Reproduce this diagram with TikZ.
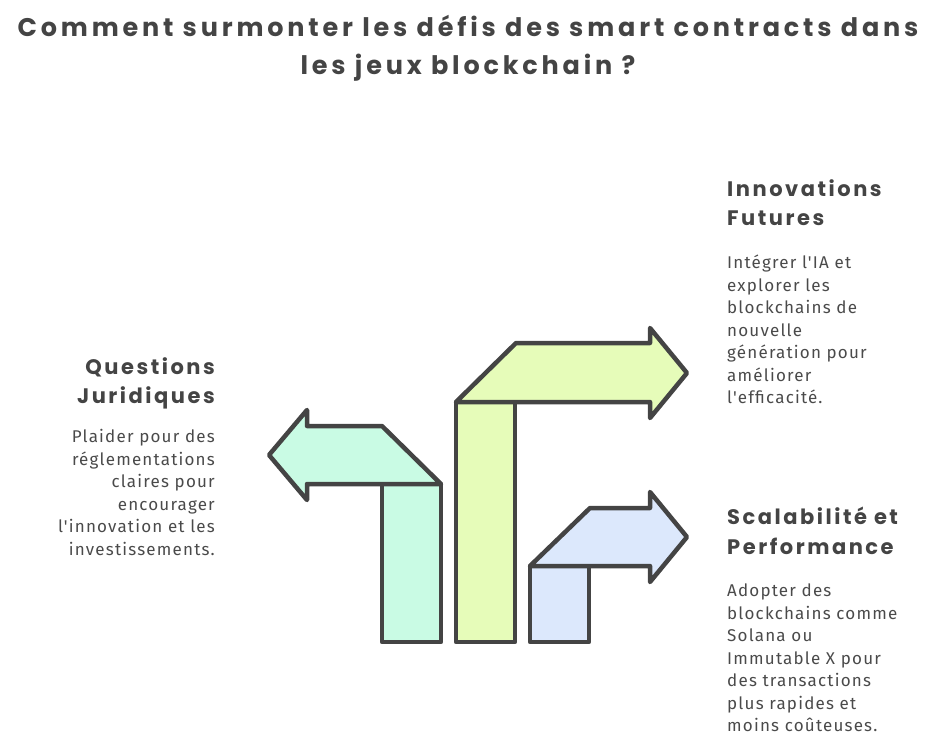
\documentclass[tikz,border=0pt]{standalone}
\usepackage{fontspec}
\setmainfont{Fira Sans}
\newfontfamily\titlefont{Poppins}[LetterSpace=15]
\newfontfamily\headfont{Poppins}[LetterSpace=12]
\newfontfamily\bodyfont{Fira Sans}[LetterSpace=7]
\usetikzlibrary{positioning}
\definecolor{inkgray}{HTML}{444444}
\definecolor{bodygray}{HTML}{4A4A4A}
\definecolor{tealfill}{HTML}{C9FBE4}
\definecolor{limefill}{HTML}{E6FCB9}
\definecolor{bluefill}{HTML}{DCE8FC}

\begin{document}
\begin{tikzpicture}[x=1pt,y=-1pt,
    arrowbody/.style={draw=inkgray, line width=4.5pt, line join=round},
    titletxt/.style={font=\titlefont\bfseries\fontsize{25.5}{38}\selectfont, text=inkgray, inner sep=0pt, align=center},
    headtxt/.style={font=\headfont\bfseries\fontsize{21}{29.5}\selectfont, text=inkgray, inner sep=0pt},
    bodytxt/.style={font=\bodyfont\fontsize{17}{22.5}\selectfont, text=bodygray, inner sep=0pt}]
    \useasboundingbox (0,0) rectangle (951,736);

    % Title
    \node[titletxt, anchor=north] (title) at (468,15) {Comment surmonter les défis des smart contracts dans\\les jeux blockchain ?};

    % Teal arrow (left)
    \draw[arrowbody, fill=tealfill] (382,484) rectangle (441,642);
    \draw[arrowbody, fill=tealfill] (441,484) -- (307,484) -- (307,500) -- (269,455)
        -- (307,410) -- (307,426) -- (382,426) -- cycle;

    % Lime arrow (middle)
    \draw[arrowbody, fill=limefill] (456,402) rectangle (515,642);
    \draw[arrowbody, fill=limefill] (456,402) -- (650,402) -- (650,418) -- (687,373)
        -- (650,328) -- (650,343) -- (516,343) -- cycle;

    % Blue arrow (right)
    \draw[arrowbody, fill=bluefill] (530,566) rectangle (589,642);
    \draw[arrowbody, fill=bluefill] (530,566) -- (650,566) -- (650,582) -- (687,537)
        -- (650,492) -- (650,508) -- (590,508) -- cycle;

    % Innovations Futures
    \node[headtxt, anchor=north west, align=left] (futurhead) at (727,179) {Innovations\\Futures};
    \node[bodytxt, align=left, below=29pt of futurhead.south west, anchor=north west] (futurbody)
        {Intégrer l'IA et\\explorer les\\blockchains de\\nouvelle\\génération pour\\améliorer\\l'efficacité.};

    % Questions Juridiques
    \node[headtxt, anchor=north east, align=right] (jurihead) at (215,357) {Questions\\Juridiques};
    \node[bodytxt, align=right, below=20pt of jurihead.south east, anchor=north east] (juribody)
        {Plaider pour des\\réglementations\\claires pour\\encourager\\l'innovation et les\\investissements.};

    % Scalabilite et Performance
    \node[headtxt, anchor=north west, align=left] (scalehead) at (727,507) {Scalabilité et\\Performance};
    \node[bodytxt, align=left, below=29pt of scalehead.south west, anchor=north west] (scalebody)
        {Adopter des\\blockchains comme\\Solana ou\\Immutable X pour\\des transactions\\plus rapides et\\moins coûteuses.};
\end{tikzpicture}
\end{document}
